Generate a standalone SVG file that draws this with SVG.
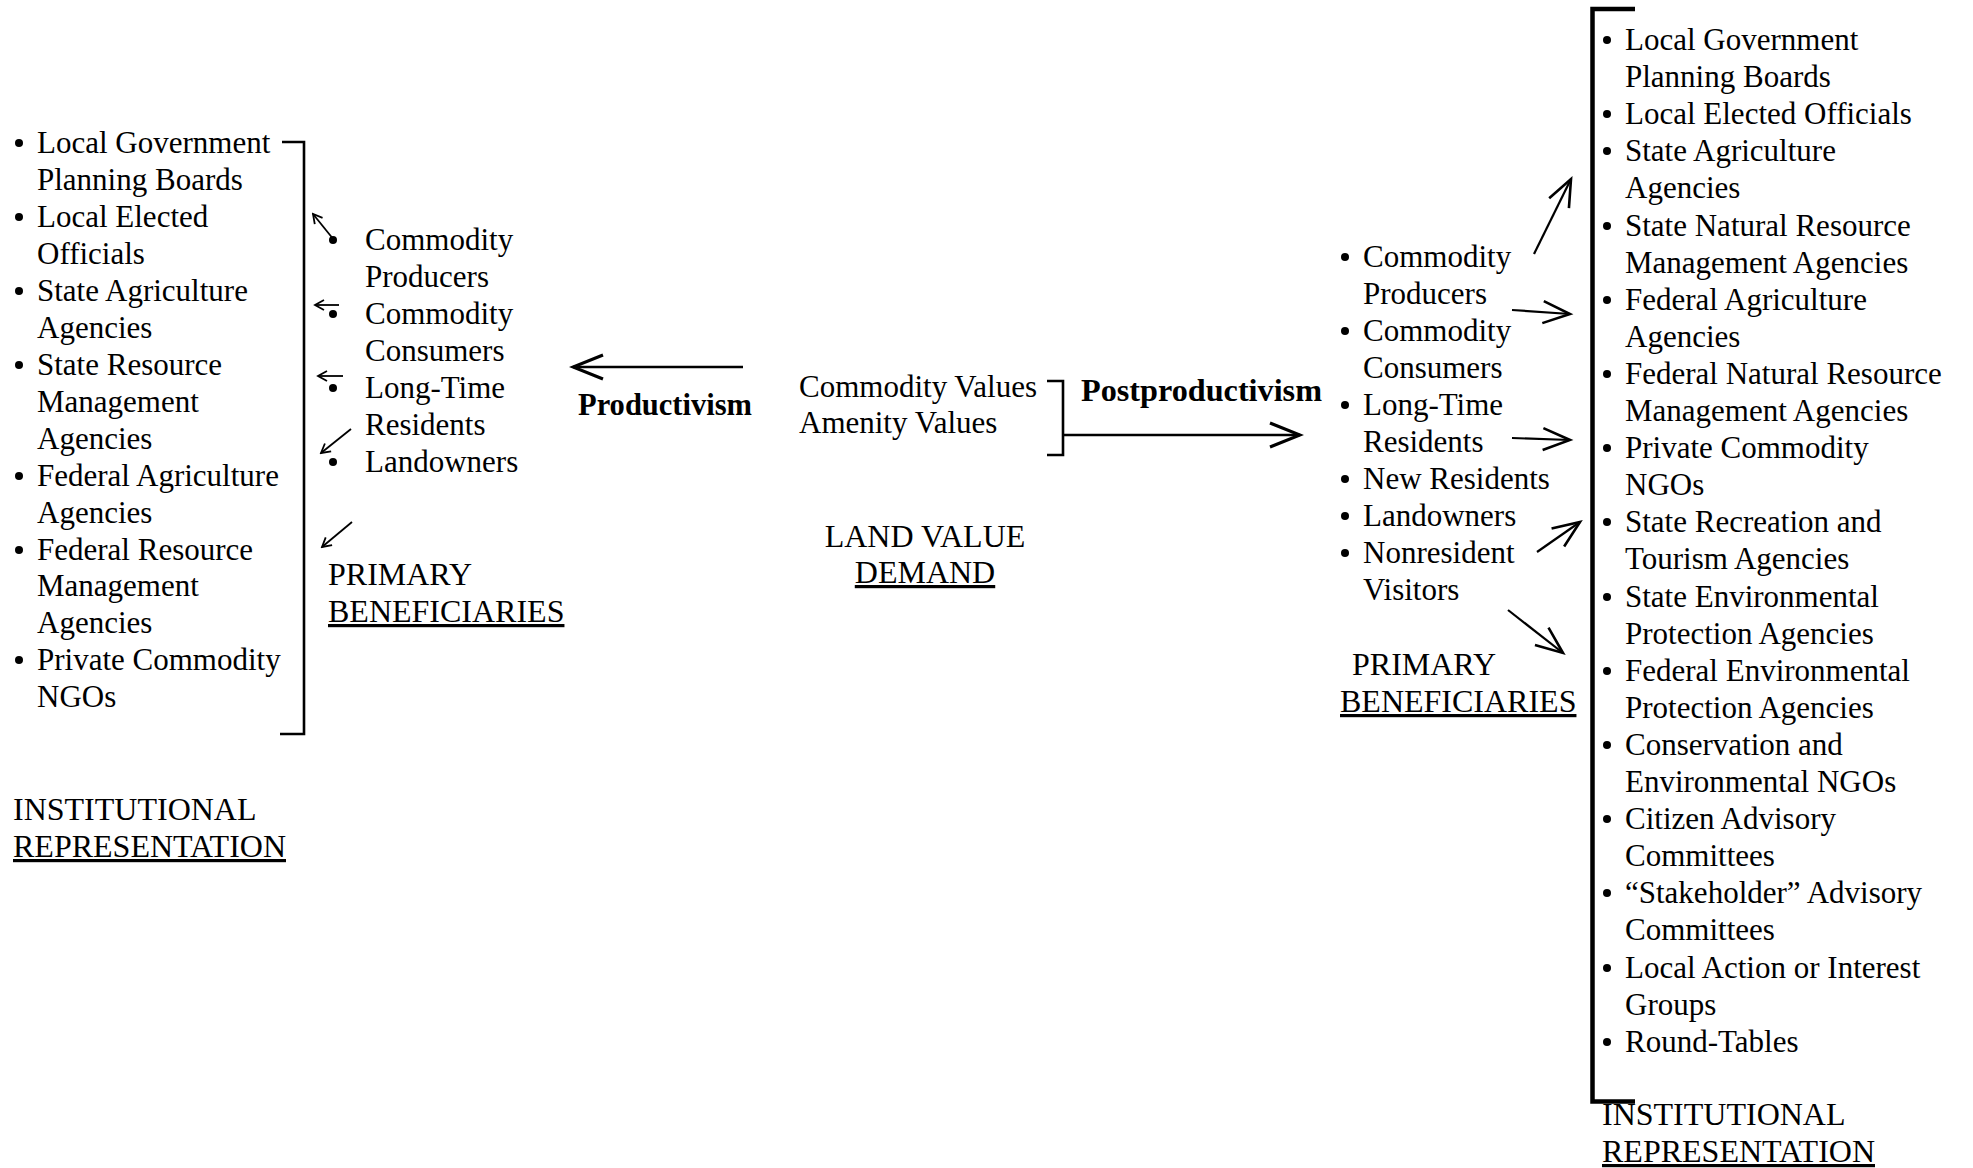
<svg xmlns="http://www.w3.org/2000/svg" width="1973" height="1168" viewBox="0 0 1973 1168">
  <defs>
    <style>
      text { font-family: "Liberation Serif", "Times New Roman", serif; fill: #000; }
      .li { font-size: 31px; }
      .cap { font-size: 32px; }
      .bold { font-size: 31px; font-weight: bold; }
      .u { text-decoration: underline; }
      .mid { text-anchor: middle; }
      .dot { fill: #000; }
      .brk { fill: none; stroke: #000; stroke-width: 2.6; }
      .brkb { fill: none; stroke: #000; stroke-width: 4.5; }
      .sm { fill: none; stroke: #000; stroke-width: 1.8; marker-end: url(#headS); }
      .lg { fill: none; stroke: #000; stroke-width: 2.2; marker-end: url(#headL); }
      .xl { fill: none; stroke: #000; stroke-width: 2.6; marker-end: url(#headX); }
    </style>
    <marker id="headS" markerUnits="userSpaceOnUse" viewBox="-12 -8 14 16" markerWidth="14" markerHeight="16" refX="0" refY="0" orient="auto">
      <path d="M-9,-5 L0,0 L-9,5" fill="none" stroke="#000" stroke-width="1.8"/>
    </marker>
    <marker id="headL" markerUnits="userSpaceOnUse" viewBox="-32 -16 36 32" markerWidth="36" markerHeight="32" refX="0" refY="0" orient="auto">
      <path d="M-27,-11 L0,0 L-27,11" fill="none" stroke="#000" stroke-width="2.6"/>
    </marker>
    <marker id="headX" markerUnits="userSpaceOnUse" viewBox="-34 -18 38 36" markerWidth="38" markerHeight="36" refX="0" refY="0" orient="auto">
      <path d="M-30,-12 L0,0 L-30,12" fill="none" stroke="#000" stroke-width="3.2"/>
    </marker>
  </defs>

  <rect width="1973" height="1168" fill="#fff"/>

  <!-- Left column: institutional representation under productivism -->
  <g id="inst-left">
    <path class="brk" d="M282,142 H304 V734 H280"/>
    <g class="dot">
      <circle cx="19" cy="143" r="4"/>
      <circle cx="19" cy="217" r="4"/>
      <circle cx="19" cy="291" r="4"/>
      <circle cx="19" cy="365" r="4"/>
      <circle cx="19" cy="476" r="4"/>
      <circle cx="19" cy="550" r="4"/>
      <circle cx="19" cy="660" r="4"/>
    </g>
    <g class="li">
      <text x="37" y="153">Local Government</text>
      <text x="37" y="190">Planning Boards</text>
      <text x="37" y="227">Local Elected</text>
      <text x="37" y="264">Officials</text>
      <text x="37" y="301">State Agriculture</text>
      <text x="37" y="338">Agencies</text>
      <text x="37" y="375">State Resource</text>
      <text x="37" y="412">Management</text>
      <text x="37" y="449">Agencies</text>
      <text x="37" y="486">Federal Agriculture</text>
      <text x="37" y="523">Agencies</text>
      <text x="37" y="560">Federal Resource</text>
      <text x="37" y="596">Management</text>
      <text x="37" y="633">Agencies</text>
      <text x="37" y="670">Private Commodity</text>
      <text x="37" y="707">NGOs</text>
    </g>
    <text class="cap" x="13" y="820">INSTITUTIONAL</text>
    <text class="cap u" x="13" y="857">REPRESENTATION</text>
  </g>

  <!-- Primary beneficiaries under productivism -->
  <g id="benef-left">
    <g class="dot">
      <circle cx="333" cy="240" r="4"/>
      <circle cx="333" cy="314" r="4"/>
      <circle cx="333" cy="388" r="4"/>
      <circle cx="333" cy="462" r="4"/>
    </g>
    <g class="li">
      <text x="365" y="250">Commodity</text>
      <text x="365" y="287">Producers</text>
      <text x="365" y="324">Commodity</text>
      <text x="365" y="361">Consumers</text>
      <text x="365" y="398">Long-Time</text>
      <text x="365" y="435">Residents</text>
      <text x="365" y="472">Landowners</text>
    </g>
    <text class="cap" x="328" y="585">PRIMARY</text>
    <text class="cap u" x="328" y="622">BENEFICIARIES</text>
  </g>

  <!-- Centre: land value demand -->
  <g id="land-value">
    <g class="li">
      <text x="799" y="397">Commodity Values</text>
      <text x="799" y="433">Amenity Values</text>
    </g>
    <path class="brk" d="M1047,381 H1063 V455 H1047"/>
    <text class="cap mid" x="925" y="547">LAND VALUE</text>
    <text class="cap mid u" x="925" y="583">DEMAND</text>
  </g>

  <g id="label-productivism">
    <text class="bold" x="578" y="415" textLength="174" lengthAdjust="spacingAndGlyphs">Productivism</text>
  </g>
  <g id="label-postproductivism">
    <text class="bold" x="1081" y="401" textLength="241" lengthAdjust="spacingAndGlyphs">Postproductivism</text>
  </g>

  <!-- Primary beneficiaries under postproductivism -->
  <g id="benef-right">
    <g class="dot">
      <circle cx="1345" cy="257" r="4"/>
      <circle cx="1345" cy="331" r="4"/>
      <circle cx="1345" cy="405" r="4"/>
      <circle cx="1345" cy="479" r="4"/>
      <circle cx="1345" cy="516" r="4"/>
      <circle cx="1345" cy="553" r="4"/>
    </g>
    <g class="li">
      <text x="1363" y="267">Commodity</text>
      <text x="1363" y="304">Producers</text>
      <text x="1363" y="341">Commodity</text>
      <text x="1363" y="378">Consumers</text>
      <text x="1363" y="415">Long-Time</text>
      <text x="1363" y="452">Residents</text>
      <text x="1363" y="489">New Residents</text>
      <text x="1363" y="526">Landowners</text>
      <text x="1363" y="563">Nonresident</text>
      <text x="1363" y="600">Visitors</text>
    </g>
    <text class="cap" x="1352" y="675">PRIMARY</text>
    <text class="cap u" x="1340" y="712">BENEFICIARIES</text>
  </g>

  <!-- Right column: institutional representation under postproductivism -->
  <g id="inst-right">
    <path class="brkb" d="M1635,9 H1592.5 V1101.5 H1635"/>
    <g class="dot">
      <circle cx="1607" cy="40" r="4"/>
      <circle cx="1607" cy="114" r="4"/>
      <circle cx="1607" cy="151" r="4"/>
      <circle cx="1607" cy="226" r="4"/>
      <circle cx="1607" cy="300" r="4"/>
      <circle cx="1607" cy="374" r="4"/>
      <circle cx="1607" cy="448" r="4"/>
      <circle cx="1607" cy="522" r="4"/>
      <circle cx="1607" cy="597" r="4"/>
      <circle cx="1607" cy="671" r="4"/>
      <circle cx="1607" cy="745" r="4"/>
      <circle cx="1607" cy="819" r="4"/>
      <circle cx="1607" cy="893" r="4"/>
      <circle cx="1607" cy="968" r="4"/>
      <circle cx="1607" cy="1042" r="4"/>
    </g>
    <g class="li">
      <text x="1625" y="50">Local Government</text>
      <text x="1625" y="87">Planning Boards</text>
      <text x="1625" y="124">Local Elected Officials</text>
      <text x="1625" y="161">State Agriculture</text>
      <text x="1625" y="198">Agencies</text>
      <text x="1625" y="236">State Natural Resource</text>
      <text x="1625" y="273">Management Agencies</text>
      <text x="1625" y="310">Federal Agriculture</text>
      <text x="1625" y="347">Agencies</text>
      <text x="1625" y="384">Federal Natural Resource</text>
      <text x="1625" y="421">Management Agencies</text>
      <text x="1625" y="458">Private Commodity</text>
      <text x="1625" y="495">NGOs</text>
      <text x="1625" y="532">State Recreation and</text>
      <text x="1625" y="569">Tourism Agencies</text>
      <text x="1625" y="607">State Environmental</text>
      <text x="1625" y="644">Protection Agencies</text>
      <text x="1625" y="681">Federal Environmental</text>
      <text x="1625" y="718">Protection Agencies</text>
      <text x="1625" y="755">Conservation and</text>
      <text x="1625" y="792">Environmental NGOs</text>
      <text x="1625" y="829">Citizen Advisory</text>
      <text x="1625" y="866">Committees</text>
      <text x="1625" y="903">“Stakeholder” Advisory</text>
      <text x="1625" y="940">Committees</text>
      <text x="1625" y="978">Local Action or Interest</text>
      <text x="1625" y="1015">Groups</text>
      <text x="1625" y="1052">Round-Tables</text>
    </g>
    <text class="cap" x="1602" y="1125">INSTITUTIONAL</text>
    <text class="cap u" x="1602" y="1162">REPRESENTATION</text>
  </g>

  <!-- Connectors -->
  <g id="connectors">
    <line id="arrow-productivism" class="xl" x1="743" y1="367" x2="573" y2="367"/>
    <line id="arrow-postproductivism" class="xl" x1="1063" y1="435" x2="1300" y2="435"/>

    <line class="sm" x1="334" y1="240" x2="313" y2="214"/>
    <line class="sm" x1="339" y1="305" x2="315" y2="305"/>
    <line class="sm" x1="343" y1="376" x2="318" y2="376"/>
    <line class="sm" x1="351" y1="429" x2="321" y2="453"/>
    <line class="sm" x1="352" y1="522" x2="322" y2="547"/>

    <line class="lg" x1="1534" y1="254" x2="1571" y2="179"/>
    <line class="lg" x1="1512" y1="310" x2="1570" y2="314"/>
    <line class="lg" x1="1512" y1="438" x2="1570" y2="440"/>
    <line class="lg" x1="1537" y1="552" x2="1580" y2="522"/>
    <line class="lg" x1="1508" y1="610" x2="1563" y2="653"/>
  </g>
</svg>
